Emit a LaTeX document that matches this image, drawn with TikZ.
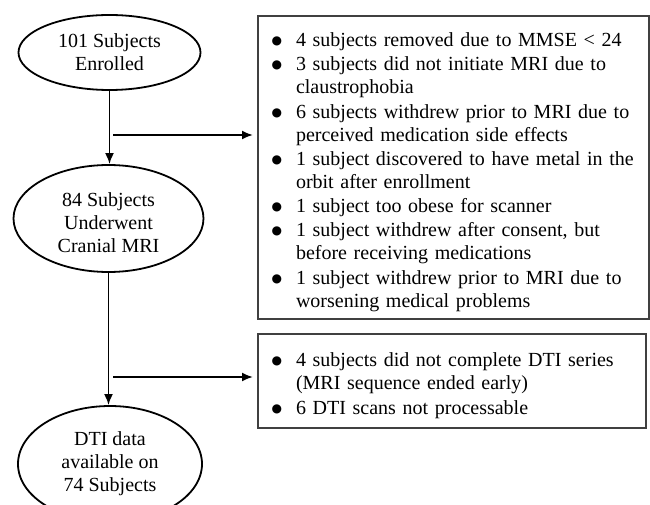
\documentclass[tikz,border=0pt]{standalone}
\usepackage{fontspec}
\setmainfont{Liberation Serif}
\newfontfamily\dotfont{DejaVu Sans}
\usepackage{enumitem}
\usetikzlibrary{shapes.geometric,arrows.meta}
\newlength{\du}
\setlength{\du}{1pt}
\newcommand{\dotmark}{\raisebox{2pt}{\dotfont\fontsize{12}{12}\selectfont ●}}
\setlist[itemize]{label=\dotmark,leftmargin=38\du,labelsep=14\du,itemsep=1.3\du,topsep=0pt,parsep=0pt,partopsep=0pt}

\begin{document}
\begin{tikzpicture}
\pgftransformxscale{1.000000}
\pgftransformyscale{-1.000000}
\definecolor{dialinecolor}{rgb}{0.000000, 0.000000, 0.000000}
\pgfsetstrokecolor{dialinecolor}
\definecolor{boxlinecolor}{rgb}{0.250000, 0.250000, 0.250000}
\tikzset{
  stage/.style={ellipse, draw=dialinecolor, line width=1.8\du, inner sep=0pt, align=center, font=\fontsize{20}{23}\selectfont},
  reasons/.style={draw=boxlinecolor, line width=2\du, anchor=north west, inner sep=0pt, align=left, font=\fontsize{20}{23}\selectfont},
  flow/.style={draw=dialinecolor, line width=1.9\du, -{Latex[length=11pt,width=9pt]}}
}
\useasboundingbox (0\du,0\du) rectangle (650\du,505\du);
\clip (0\du,0\du) rectangle (650\du,505\du);
\definecolor{dialinecolor}{rgb}{1.000000, 1.000000, 1.000000}
\fill[dialinecolor] (0\du,0\du) rectangle (650\du,505\du);
\definecolor{dialinecolor}{rgb}{0.000000, 0.000000, 0.000000}
% stages
\node[stage, minimum width=182\du, minimum height=75\du] (enrolled) at (109.5\du,52.5\du){101 Subjects\\Enrolled};
\node[stage, minimum width=190\du, minimum height=107\du] (scanned) at (108.5\du,218.5\du){\rule{0pt}{22pt}84 Subjects\\Underwent\\Cranial MRI};
\node[stage, minimum width=184\du, minimum height=116\du] (dtidata) at (110\du,464\du){DTI data\\available on\\74 Subjects};
% exclusion boxes
\node[reasons, text width=391\du, minimum height=303\du] (lostmri) at (257\du,15\du){%
\begin{itemize}
\item 4 subjects removed due to MMSE < 24
\item 3 subjects did not initiate MRI due to\\claustrophobia
\item 6 subjects withdrew prior to MRI due to\\perceived medication side effects
\item 1 subject discovered to have metal in the\\orbit after enrollment
\item 1 subject too obese for scanner
\item 1 subject withdrew after consent, but\\before receiving medications
\item 1 subject withdrew prior to MRI due to\\worsening medical problems
\end{itemize}};
\node[reasons, text width=388\du, minimum height=94\du] (lostdti) at (257\du,333\du){%
\begin{itemize}
\item 4 subjects did not complete DTI series\\(MRI sequence ended early)
\item 6 DTI scans not processable
\end{itemize}};
% connectors
\coordinate (split1) at (113\du,135\du);
\coordinate (split2) at (113\du,377\du);
\draw[flow] (enrolled.south) -- (enrolled.south |- scanned.north);
\draw[flow] (scanned.south) -- (scanned.south |- dtidata.north);
\draw[flow, shorten >=4pt] (split1) -- (split1 -| lostmri.west);
\draw[flow, shorten >=4pt] (split2) -- (split2 -| lostdti.west);
\end{tikzpicture}
\end{document}
